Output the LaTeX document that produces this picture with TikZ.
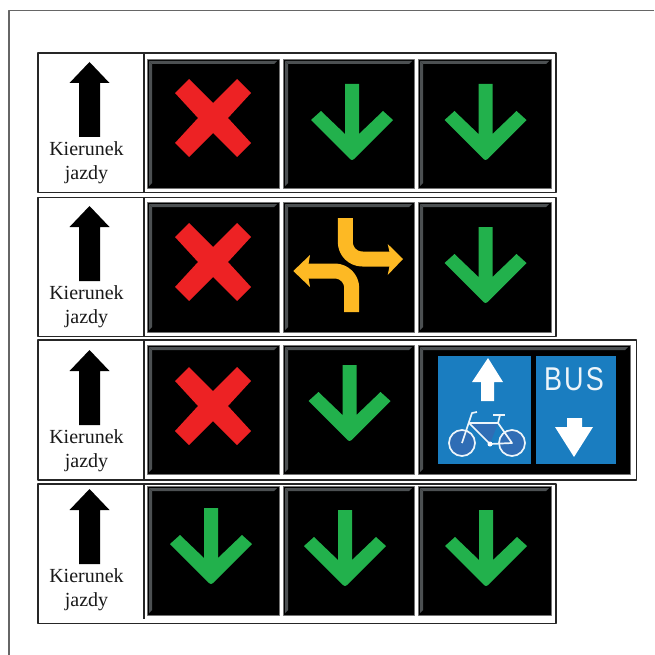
\documentclass[tikz,border=0pt]{standalone}
\usepackage{fontspec}
\setmainfont{Liberation Serif}
\newfontfamily\busfont[LetterSpace=8]{Liberation Sans}
\definecolor{crossred}{HTML}{ED2224}
\definecolor{arrowgreen}{HTML}{22B14C}
\definecolor{turnyellow}{HTML}{FDB924}
\definecolor{signblue}{HTML}{1A7DC0}
\definecolor{wheelblue}{HTML}{2F6DB5}
\definecolor{bevelgrey}{HTML}{4C5052}
\tikzset{
	rowframe/.style={draw=black!85, line width=1.7pt, fill=white},
	cellface/.style={fill=black, draw=black!55, line width=0.5pt},
	bevel/.style={fill=bevelgrey},
	bikeline/.style={draw=white!92!signblue, line width=1.7pt, line join=round},
	jazda/.style={font=\fontsize{20}{20}\selectfont, text=black!90, anchor=base, inner sep=0pt},
	greenarrow/.pic={
		\fill[arrowgreen] (-7,0) -- (7,0) -- (7,50) -- (31,27) -- (41,36) [rounded corners=2.5pt] -- (0,77) [sharp corners] -- (-41,36) -- (-31,27) -- (-7,50) -- cycle;
	},
	redcross/.pic={
		\fill[crossred] (-38,-25) -- (-24,-39) -- (0,-15) -- (24,-39) -- (38,-25) -- (15,0) -- (38,25) -- (24,39) -- (0,15) -- (-24,39) -- (-38,25) -- (-15,0) -- cycle;
	},
	blackarrow/.pic={
		\fill[black] (0,0) -- (20,21) -- (10.5,21) -- (10.5,75) -- (-10.5,75) -- (-10.5,21) -- (-20,21) -- cycle;
	}
}
\begin{document}
\begin{tikzpicture}[x=1pt, y=-1pt, line join=round]
	\useasboundingbox (0,0) rectangle (654,655);
	% ramka strony
	\draw[black!60, line width=1.2pt] (654,10.5) -- (9,10.5) -- (9,655);
	% wiersze: gora/dol ramki, prawa krawedz
	\foreach \top/\bot/\rgt in {53/192.5/556, 197.5/336.5/556, 340/480/636.5, 484/623.5/556}
		\draw[rowframe] (38,\top) rectangle (\rgt,\bot);
	\foreach \top/\bot in {53/192.5, 197.5/336.5, 340/480, 484/619}
		\draw[black!85, line width=1.7pt] (144,\top) -- (144,\bot);
	% pola sygnalizatorow
	\foreach \xa/\xb/\ya/\yb in {147/279/59/188, 283/414/59/188, 418/551/59/188,
		147/279/202/332, 283/414/202/332, 418/551/202/332,
		147/279/345/474, 283/414/345/474, 418/630/345/474,
		147/279/486/615, 283/414/486/615, 418/551/486/615} {
		\filldraw[cellface] (\xa,\ya) rectangle (\xb,\yb);
		\fill[bevel] (\xa+2,\ya+2) -- (\xb-2,\ya+2) -- (\xb-5,\ya+5) -- (\xa+5,\ya+5) -- cycle;
		\fill[bevel] (\xa+2,\ya+2) -- (\xa+5,\ya+5) -- (\xa+5,\yb-5) -- (\xa+2,\yb-2) -- cycle;
	}
	% kierunek jazdy
	\foreach \i/\tip in {1/62, 2/206, 3/350, 4/489} {
		\pic at (89.5,\tip) {blackarrow};
		\node[jazda] (kierunek\i) at (86.5,\tip+93.5) {Kierunek};
		\node[jazda] (jazdy\i) at (86.5,\tip+117) {jazdy};
	}
	% krzyze i strzalki
	\foreach \cx/\cy in {213/118, 213/262, 213/406}
		\pic at (\cx,\cy) {redcross};
	\foreach \cx/\cy in {352/84, 485.5/84, 485.5/227, 349.5/365, 211/508, 345/510, 486/510}
		\pic at (\cx,\cy) {greenarrow};
	% strzalki zolte
	\draw[turnyellow, line width=15pt, rounded corners=17pt] (345.3,218) -- (345.3,259) -- (390,259);
	\fill[turnyellow] (387.7,244) -- (403,259) -- (387.7,275) -- (389.5,266) -- (389.5,252) -- cycle;
	\draw[turnyellow, line width=15pt, rounded corners=17pt] (351.7,312) -- (351.7,271) -- (308,271);
	\fill[turnyellow] (310,255) -- (293.3,271) -- (310,287) -- (308.5,278) -- (308.5,264) -- cycle;
	% znak niebieski
	\fill[signblue] (438,356) rectangle (531,464);
	\fill[signblue] (536,356) rectangle (616,464);
	\fill[white] (488,358) -- (503,382) -- (494,382) -- (494,401) -- (481,401) -- (481,382) -- (472,382) -- cycle;
	\fill[white] (567,418) -- (582,418) -- (582,427) -- (593,427) -- (574,457) -- (555,427) -- (567,427) -- cycle;
	\node[font=\busfont\fontsize{27}{27}\selectfont, text=white!92!signblue, anchor=base, inner sep=0pt, yscale=1.22] (bus) at (574,390) {BUS};
	% rower
	\fill[wheelblue] (469,423) -- (498,423) -- (490,444) -- cycle;
	\foreach \wx in {462,512}
		\draw[bikeline, fill=wheelblue] (\wx,443) circle (13);
	\draw[bikeline] (462,443) -- (472,413) -- (477,412);
	\draw[bikeline] (469,423) -- (498,423) -- (512,443) -- (490,444) -- cycle;
	\draw[bikeline] (498,423) -- (500,415);
	\draw[bikeline] (493,415) -- (505,415);
	\fill[white] (490,444) circle (2.5);
\end{tikzpicture}
\end{document}
